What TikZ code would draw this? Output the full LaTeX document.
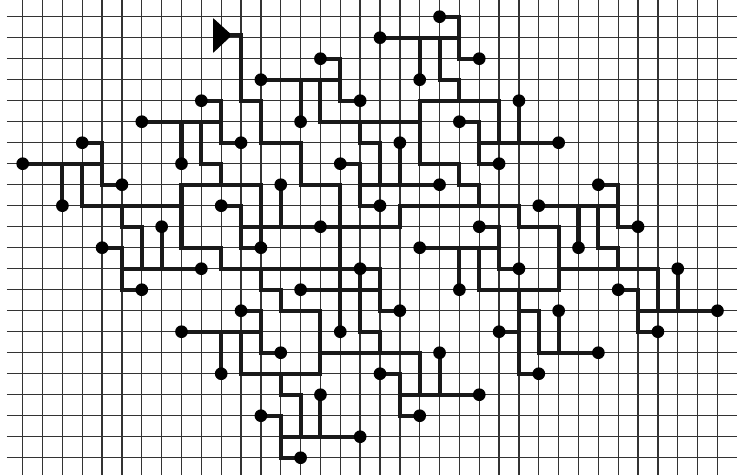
\documentclass[tikz,border=0pt]{standalone}
\usepackage{tikz}

\begin{document}
\begin{tikzpicture}[x=0.5cm, y=-0.529cm,
  gridline/.style={black!80, line width=0.95pt},
  wire/.style={black!90, line width=2.9pt, line join=miter, line cap=rect},
  sink/.style={fill=black}]
  % Page frame
  \useasboundingbox (-1.1436,-0.795) rectangle (35.985,21.824);
  \fill[white] (-1.1436,-0.795) rectangle (35.985,21.824);

  % Draw grid
  \foreach \c in {0,...,35}
    \draw[gridline] (\c,-0.795) -- (\c,21.824);
  \foreach \r in {0,...,21}
    \draw[gridline] (-0.8,\r) -- (35.985,\r);

  % Root driver and trunk
  \coordinate (root) at (10.544,0.88);
  \fill[black, rounded corners=0.5pt] (9.587,0.06) -- (root) -- (9.587,1.73) -- cycle;
  \draw[wire] (root) -- (11,0.88) -- (11,4) -- (12,4) -- (12,6) -- (14,6) -- (14,8) -- (16,8) -- (16,15);

  % Upper left branches
  \draw[wire] (6,5) -- (10,5);
  \draw[wire] (8,5) -- (8,7);
  \draw[wire] (9,5) -- (9,7) -- (10,7) -- (10,8);
  \draw[wire] (9,4) -- (10,4) -- (10,6) -- (11,6);
  \draw[wire] (3,6) -- (4,6) -- (4,8) -- (5,8);
  \draw[wire] (0,7) -- (4,7);
  \draw[wire] (2,7) -- (2,9);
  \draw[wire] (3,7) -- (3,9) -- (8,9);
  \draw[wire] (8,8) -- (12,8) -- (12,11);
  \draw[wire] (8,8) -- (8,11) -- (10,11) -- (10,12) -- (17,12);
  \draw[wire] (10,9) -- (11,9) -- (11,11) -- (12,11);
  \draw[wire] (5,9) -- (5,10) -- (6,10) -- (6,12);
  \draw[wire] (4,11) -- (5,11) -- (5,13) -- (6,13);
  \draw[wire] (5,12) -- (9,12);
  \draw[wire] (7,10) -- (7,12);

  % Upper middle branches
  \draw[wire] (12,3) -- (16,3);
  \draw[wire] (15,2) -- (16,2) -- (16,4) -- (17,4);
  \draw[wire] (14,3) -- (14,5);
  \draw[wire] (15,3) -- (15,5) -- (20,5);
  \draw[wire] (17,5) -- (17,6) -- (18,6) -- (18,8);
  \draw[wire] (19,6) -- (19,8);
  \draw[wire] (16,7) -- (17,7) -- (17,9) -- (18,9);
  \draw[wire] (17,8) -- (21,8);
  \draw[wire] (13,8) -- (13,10);
  \draw[wire] (11,10) -- (19,10) -- (19,9);

  % Upper right branches
  \draw[wire] (21,0) -- (22,0) -- (22,2) -- (23,2);
  \draw[wire] (18,1) -- (22,1);
  \draw[wire] (20,1) -- (20,3);
  \draw[wire] (21,1) -- (21,3) -- (22,3) -- (22,4);
  \draw[wire] (20,4) -- (24,4) -- (24,6);
  \draw[wire] (20,4) -- (20,7) -- (22,7) -- (22,8) -- (23,8) -- (23,9);
  \draw[wire] (25,4) -- (25,6);
  \draw[wire] (23,6) -- (27,6);
  \draw[wire] (22,5) -- (23,5) -- (23,7) -- (24,7);
  \draw[wire] (19,9) -- (25,9) -- (25,10) -- (27,10) -- (27,13);

  % Right branches
  \draw[wire] (26,9) -- (30,9);
  \draw[wire] (29,8) -- (30,8) -- (30,10) -- (31,10);
  \draw[wire] (28,9) -- (28,11);
  \draw[wire] (29,9) -- (29,11) -- (30,11) -- (30,12);
  \draw[wire] (27,12) -- (32,12) -- (32,14);
  \draw[wire] (33,12) -- (33,14);
  \draw[wire] (30,13) -- (31,13) -- (31,15) -- (32,15);
  \draw[wire] (31,14) -- (35,14);

  % Centre branches
  \draw[wire] (23,10) -- (24,10) -- (24,12) -- (25,12);
  \draw[wire] (20,11) -- (24,11);
  \draw[wire] (22,11) -- (22,13);
  \draw[wire] (23,11) -- (23,13) -- (27,13);
  \draw[wire] (25,13) -- (25,17) -- (26,17);
  \draw[wire] (24,15) -- (25,15);
  \draw[wire] (25,14) -- (26,14) -- (26,16) -- (29,16);
  \draw[wire] (27,14) -- (27,16);

  % Lower branches
  \draw[wire] (12,12) -- (12,13) -- (13,13) -- (13,14) -- (15,14) -- (15,17);
  \draw[wire] (14,13) -- (18,13);
  \draw[wire] (17,12) -- (18,12) -- (18,14) -- (19,14);
  \draw[wire] (17,12) -- (17,15) -- (18,15) -- (18,16);
  \draw[wire] (11,14) -- (12,14) -- (12,16) -- (13,16);
  \draw[wire] (8,15) -- (12,15);
  \draw[wire] (10,15) -- (10,17);
  \draw[wire] (11,15) -- (11,17) -- (15,17);
  \draw[wire] (15,16) -- (20,16) -- (20,18);
  \draw[wire] (13,17) -- (13,18) -- (14,18) -- (14,20);
  \draw[wire] (15,18) -- (15,20);
  \draw[wire] (12,19) -- (13,19) -- (13,21) -- (14,21);
  \draw[wire] (13,20) -- (17,20);
  \draw[wire] (21,16) -- (21,18);
  \draw[wire] (18,17) -- (19,17) -- (19,19) -- (20,19);
  \draw[wire] (19,18) -- (23,18);

  % Sinks: 8 x 8 skewed array
  \foreach \a in {0,...,7}
    \foreach \b in {0,...,7}
      \fill[sink] ({21-3*\a+2*\b},{\a+2*\b}) circle (0.16cm);
\end{tikzpicture}
\end{document}
